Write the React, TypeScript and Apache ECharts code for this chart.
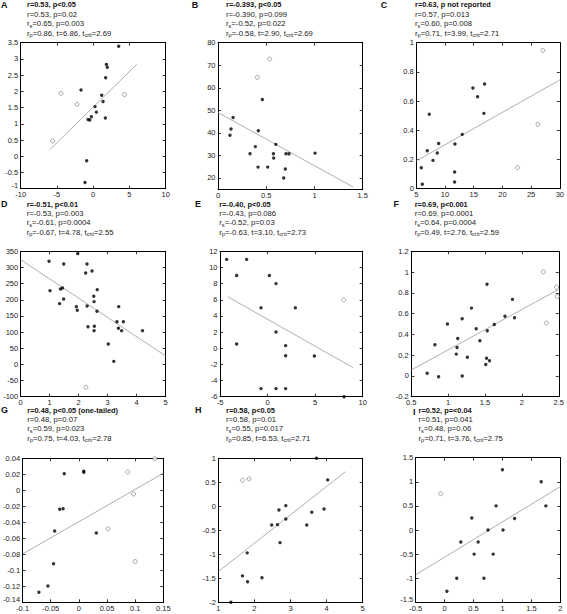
import React, { useEffect, useRef } from "react";
import * as echarts from "echarts";

// ---------- data ----------
const aFilled = [[3.52,3.39],[1.82,2.83],[1.95,2.74],[1.72,2.42],[-1.68,2.04],[1.17,1.88],[1.36,1.69],[0.25,1.53],[0.44,1.36],[-0.25,1.22],[-0.71,1.13],[-0.48,1.12],[1.68,1.18],[-0.9,-0.14],[-1.13,-0.81]];
const aOpen = [[-4.44,1.94],[-2.23,1.6],[4.3,1.9],[-5.59,0.47]];
const aFit = [[-6,0.2],[6,2.83]];

const bFilled = [[0.46,54.8],[0.156,46.8],[0.135,41.7],[0.124,38.9],[0.418,40.9],[0.6,34.9],[0.387,33.9],[0.332,30.7],[0.574,30.7],[0.577,28.8],[0.705,30.7],[0.736,30.7],[1.006,31.0],[0.415,24.8],[0.515,24.8],[0.698,24.0],[0.681,20.0]];
const bOpen = [[0.536,72.8],[0.408,64.6]];
const bFit = [[0,49],[1.4,16]];

const cFilled = [[16.89,0.717],[14.86,0.69],[15.67,0.63],[16.77,0.516],[7.26,0.51],[13.0,0.372],[8.89,0.31],[11.73,0.306],[6.91,0.26],[8.65,0.244],[7.9,0.194],[5.87,0.144],[11.67,0.114],[11.67,0.046],[6.04,0.03]];
const cOpen = [[27.04,0.947],[26.17,0.44],[22.63,0.144]];
const cFit = [[5,0.19],[30,0.745]];

const dFilled = [[0.977,319],[1.966,342.8],[1.483,310.8],[2.287,310.8],[2.46,289.1],[2.24,282.9],[1.01,228.2],[1.37,233.4],[1.44,236.5],[1.48,202.4],[1.34,188],[2.64,231.3],[2.52,210.7],[2.53,194.2],[1.92,178.7],[2.29,180.7],[1.95,167.3],[2.63,164.2],[3.38,178.7],[3.32,132.2],[3.54,132.2],[3.37,111.6],[3.48,104.4],[4.2,104.4],[2.32,116.7],[2.54,117.8],[2.53,104.4],[3.02,63.1],[3.21,9.4]];
const dOpen = [[2.25,-71]];
const dFit = [[0,324],[5,26]];

const eFilled = [[-4.3,11],[-2.2,11],[-3.25,9],[0.19,9],[0.89,8],[-0.69,5],[2.92,5],[0.89,2],[-3.25,0.52],[1.9,0.32],[1.9,-0.92],[4.92,-0.96],[-0.69,-5],[0.89,-5],[1.9,-5],[8.04,-6]];
const eOpen = [[8,6]];
const eFit = [[-4.2,6.38],[9,-2.41]];

const fFilled = [[1.527,0.882],[1.872,0.737],[1.316,0.653],[1.19,0.55],[1.77,0.575],[1.9,0.56],[0.99,0.5],[1.625,0.496],[1.38,0.454],[1.13,0.36],[1.53,0.435],[1.43,0.338],[0.82,0.3],[1.12,0.274],[1.11,0.21],[1.26,0.18],[1.52,0.17],[1.56,0.146],[1.51,0.11],[0.715,0.025],[0.87,-0.008],[1.19,0.0]];
const fOpen = [[2.29,1.002],[2.47,0.855],[2.48,0.765],[2.33,0.51]];
const fFit = [[0.5,0.057],[2.5,0.834]];

const gFilled = [[-0.026,0.0208],[0.0087,0.0225],[0.0087,0.0238],[-0.034,-0.0238],[-0.028,-0.023],[-0.043,-0.0508],[0.031,-0.0533],[-0.045,-0.0917],[-0.055,-0.1196],[-0.071,-0.1275]];
const gOpen = [[0.135,0.0396],[0.087,0.0229],[0.097,-0.0046],[0.052,-0.0483],[0.1,-0.089]];
const gFit = [[-0.1,-0.0796],[0.15,0.0213]];

const hFilled = [[3.72,1.0],[4.03,0.55],[2.87,0.014],[2.68,-0.076],[3.59,-0.125],[3.93,-0.056],[2.87,-0.264],[2.48,-0.389],[2.64,-0.382],[3.45,-0.389],[2.71,-0.757],[1.8,-0.97],[1.67,-1.45],[1.81,-1.57],[2.21,-1.49],[1.35,-2.0]];
const hOpen = [[1.67,0.54],[1.85,0.57]];
const hFit = [[1,-1.36],[4.52,0.72]];

const iFilled = [[1.0,1.25],[1.67,1.0],[1.75,0.5],[0.89,0.5],[1.21,0.24],[0.47,0.25],[0.75,0],[1.01,0],[0.28,-0.25],[0.58,-0.25],[0.51,-0.5],[0.84,-0.5],[0.21,-1.0],[0.68,-1.0],[0.04,-1.27]];
const iOpen = [[-0.068,0.753]];
const iFit = [[-0.5,-0.93],[2,0.9]];

// axis ranges: [min, max, interval]
const aX = [-10, 10, 5], aY = [-1, 3.5, 0.5];
const bX = [0, 1.5, 0.5], bY = [15, 80, 10];
const bYTicks = [20, 30, 40, 50, 60, 70, 80];
const cX = [5, 30, 5], cY = [0, 1, 0.2];
const dX = [0, 5, 1], dY = [-100, 350, 50];
const eX = [-5, 10, 5], eY = [-6, 12, 2];
const fX = [0.5, 2.5, 0.5], fY = [-0.2, 1.2, 0.2];
const gX = [-0.1, 0.15, 0.05], gY = [-0.14, 0.04, 0.02];
const hX = [1, 5, 1], hY = [-2, 1, 0.5];
const iX = [-0.5, 2, 0.5], iY = [-1.5, 1.5, 0.5];

const letters = ["A", "B", "C", "D", "E", "F", "G", "H", "I"];
const titles = [
  "r=0.53, p<0.05", "r=-0.393, p<0.05", "r=0.63, p not reported",
  "r=-0.51, p<0.01", "r=-0.40, p<0.05", "r=0.69, p<0.001",
  "r=0.48, p<0.05 (one-tailed)", "r=0.58, p<0.05", "r=0.52, p=<0.04",
];
const pearson = ["r=0.53, p=0.02", "r=-0.390, p=0.099", "r=0.57, p=0.013", "r=-0.53, p=0.003", "r=-0.43, p=0.086", "r=0.69, p=0.0001", "r=0.48, p=0.07", "r=0.58, p=0.01", "r=0.51, p=0.041"];
const spearman = ["=0.65, p=0.003", "=-0.52, p=0.022", "=0.60, p=0.008", "=-0.61, p=0.0004", "=-0.52, p=0.03", "=0.64, p=0.0004", "=0.59, p=0.023", "=0.55, p=0.017", "=0.48, p=0.06"];
const rp = ["=0.86, t=6.86, t", "=-0.58, t=2.90, t", "=0.71, t=3.99, t", "=-0.67, t=4.78, t", "=-0.63, t=3.10, t", "=0.49, t=2.76, t", "=0.75, t=4.03, t", "=0.85, t=6.53, t", "=0.71, t=3.76, t"];
const tcrit = ["=2.69", "=2.69", "=2.71", "=2.55", "=2.73", "=2.59", "=2.78", "=2.71", "=2.75"];

// ---------- layout ----------
const grids = [
  [20.7, 42.7, 145, 146], [218, 42.7, 144.7, 146.5], [416.3, 42.7, 143.7, 146],
  [20.7, 251.3, 145, 145.4], [220, 251.3, 142.7, 145.4], [411.3, 251.3, 148.7, 145.4],
  [22.3, 458.3, 141, 144], [218.3, 458.3, 144.4, 144], [415.7, 457.7, 144.6, 144.6],
];
const liftMinLabel = [true, false, false, false, false, false, true, false, true];
const letterX = [1, 191.7, 380.7, 1, 195, 393.5, 1, 195, 413];
const letterDY = [0, 0, 0, 0, 0, 0, 0, 0, 1.5];
const textX = [27, 226, 415, 26.7, 219.3, 414.7, 27.3, 226, 418.5];
const rowY = [[4.7, 14, 23.7, 33.3], [204, 213.3, 222.7, 232.3], [410.2, 419.5, 428.8, 438.4]];

const FONT = "'Liberation Sans', Arial, Helvetica, sans-serif";

export default function App() {
  const ref = useRef<HTMLDivElement>(null);
  useEffect(() => {
    if (!ref.current) return;
    const chart = echarts.init(ref.current, undefined, { renderer: "svg" });
    const filled = [aFilled, bFilled, cFilled, dFilled, eFilled, fFilled, gFilled, hFilled, iFilled];
    const open = [aOpen, bOpen, cOpen, dOpen, eOpen, fOpen, gOpen, hOpen, iOpen];
    const fits = [aFit, bFit, cFit, dFit, eFit, fFit, gFit, hFit, iFit];
    const xr = [aX, bX, cX, dX, eX, fX, gX, hX, iX];
    const yr = [aY, bY, cY, dY, eY, fY, gY, hY, iY];

    const grid: any[] = [];
    const xAxis: any[] = [];
    const yAxis: any[] = [];
    const series: any[] = [];
    const graphic: any[] = [];

    const axisBase = (r: number[], pos: string, gi: number, labels: boolean, custom?: number[], lift?: boolean) => {
      const a: any = {
        type: "value",
        gridIndex: gi,
        position: pos,
        min: r[0],
        max: r[1],
        interval: r[2],
        axisLine: { show: true, onZero: false, lineStyle: { color: "#000", width: 1 } },
        axisTick: { show: true, inside: true, length: 3, lineStyle: { color: "#000", width: 0.8 } },
        splitLine: { show: false },
        axisLabel: {
          show: labels,
          fontSize: 7.5,
          lineHeight: 6,
          fontFamily: FONT,
          color: "#222",
          margin: pos === "bottom" ? 3 : 2.5,
        },
      };
      if (lift) a.axisLabel.verticalAlignMinLabel = "bottom";
      if (custom) {
        a.axisTick.customValues = custom;
        a.axisLabel.customValues = custom;
      }
      return a;
    };

    for (let i = 0; i < 9; i++) {
      const [l, t, w, h] = grids[i];
      grid.push({ left: l, top: t, width: w, height: h, show: false });
      xAxis.push(axisBase(xr[i], "bottom", i, true));
      xAxis.push(axisBase(xr[i], "top", i, false));
      const custom = i === 1 ? bYTicks : undefined;
      yAxis.push(axisBase(yr[i], "left", i, true, custom, liftMinLabel[i]));
      yAxis.push(axisBase(yr[i], "right", i, false, custom));

      series.push({
        type: "line",
        xAxisIndex: 2 * i,
        yAxisIndex: 2 * i,
        data: fits[i],
        showSymbol: false,
        symbol: "none",
        lineStyle: { color: "#9a9a9a", width: 0.8 },
        silent: true,
        z: 1,
      });
      series.push({
        type: "scatter",
        xAxisIndex: 2 * i,
        yAxisIndex: 2 * i,
        data: filled[i],
        symbol: "circle",
        symbolSize: 3.4,
        itemStyle: { color: "#000" },
        z: 3,
      });
      series.push({
        type: "scatter",
        xAxisIndex: 2 * i,
        yAxisIndex: 2 * i,
        data: open[i],
        symbol: "circle",
        symbolSize: 4,
        itemStyle: { color: "#fff", borderColor: "#666", borderWidth: 0.7 },
        z: 3,
      });

      const ys = rowY[Math.floor(i / 3)];
      graphic.push({
        type: "text",
        x: letterX[i],
        y: ys[0] + letterDY[i],
        style: { text: letters[i], font: `bold 9px ${FONT}`, fill: "#111", verticalAlign: "middle" },
      });
      graphic.push({
        type: "text",
        x: textX[i],
        y: ys[0],
        style: { text: titles[i], font: `bold 7.4px ${FONT}`, fill: "#111", verticalAlign: "middle" },
      });
      graphic.push({
        type: "text",
        x: textX[i],
        y: ys[1],
        style: { text: pearson[i], font: `7.7px ${FONT}`, fill: "#222", verticalAlign: "middle" },
      });
      const rich = {
        n: { fontSize: 7.7, fontFamily: FONT, fill: "#222", color: "#222", lineHeight: 10, verticalAlign: "middle" },
        s: { fontSize: 5.6, fontFamily: FONT, fill: "#222", color: "#222", lineHeight: 6, verticalAlign: "bottom" },
      };
      graphic.push({
        type: "text",
        x: textX[i],
        y: ys[2],
        style: { text: `{n|r}{s|s}{n|${spearman[i]}}`, rich, verticalAlign: "middle" },
      });
      graphic.push({
        type: "text",
        x: textX[i],
        y: ys[3],
        style: { text: `{n|r}{s|p}{n|${rp[i]}}{s|crit}{n|${tcrit[i]}}`, rich, verticalAlign: "middle" },
      });
    }

    chart.setOption({
      animation: false,
      backgroundColor: "#fff",
      grid,
      xAxis,
      yAxis,
      series,
      graphic,
    });
    return () => chart.dispose();
  }, []);
  return (
    <div
      ref={ref}
      style={{ position: "absolute", left: 0, top: 0, width: 567, height: 614, background: "#fff" }}
    />
  );
}
